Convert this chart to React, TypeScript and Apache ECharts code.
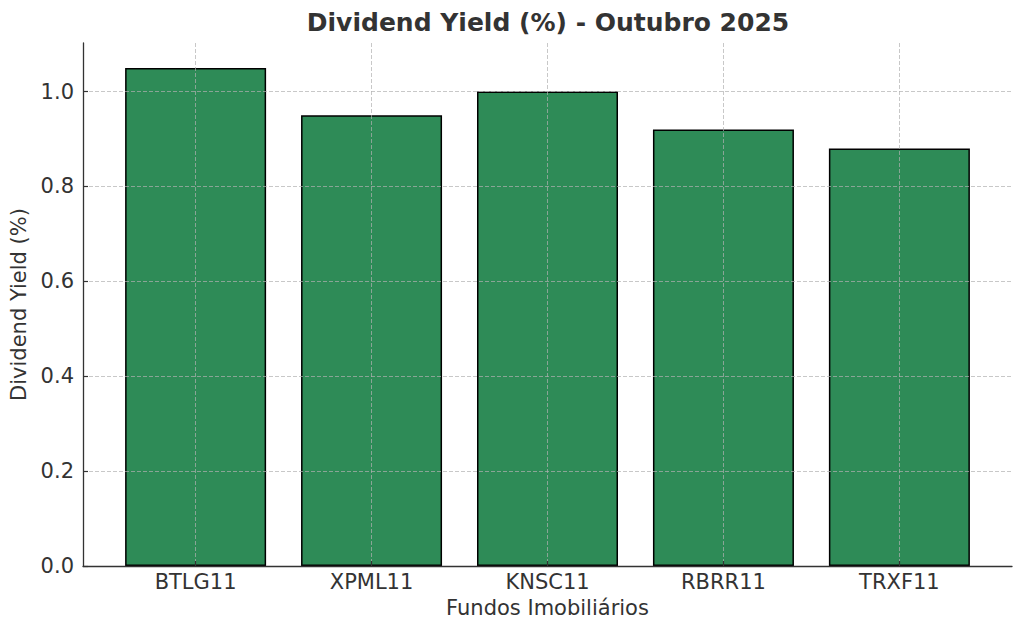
import React, { useEffect, useRef } from "react";
import * as echarts from "echarts";

const categories = ["BTLG11", "XPML11", "KNSC11", "RBRR11", "TRXF11"];
const yieldValues = [1.05, 0.95, 1.0, 0.92, 0.88];
const yTicks = [0, 0.2, 0.4, 0.6, 0.8, 1.0];
const xTicks = [0, 1, 2, 3, 4];

const FONT = "'DejaVu Sans', sans-serif";
const TEXT = "#333333";
const GRID = "rgba(176,176,176,0.7)";

export default function App() {
  const ref = useRef<HTMLDivElement>(null);
  useEffect(() => {
    if (!ref.current) return;
    const chart = echarts.init(ref.current, undefined, { renderer: "svg" });
    chart.setOption({
      animation: false,
      backgroundColor: "#ffffff",
      textStyle: { fontFamily: FONT, color: TEXT },
      title: {
        text: "Dividend Yield (%) - Outubro 2025",
        left: 543,
        textAlign: "center",
        top: 5,
        textStyle: { fontFamily: FONT, fontWeight: "bold", fontSize: 25, color: TEXT },
      },
      grid: { left: 83, right: 12, top: 43, bottom: 69, containLabel: false },
      xAxis: {
        type: "value",
        min: -0.64,
        max: 4.64,
        z: 5,
        name: "Fundos Imobiliários",
        nameLocation: "middle",
        nameGap: 31,
        nameTextStyle: { fontFamily: FONT, fontSize: 21, color: TEXT },
        axisLine: { show: true, onZero: false, lineStyle: { color: "#333", width: 1.3 } },
        axisTick: { show: true, inside: true, length: 5, customValues: xTicks, lineStyle: { color: "#333", width: 1.2 } },
        axisLabel: {
          customValues: xTicks,
          margin: 5,
          fontFamily: FONT,
          fontSize: 21,
          color: TEXT,
          formatter: (v: number) => categories[Math.round(v)] ?? "",
        },
        splitLine: { show: true, lineStyle: { color: GRID, type: [4, 2], width: 1 } },
      },
      yAxis: {
        type: "value",
        min: 0,
        max: 1.1025,
        z: 5,
        name: "Dividend Yield (%)",
        nameLocation: "middle",
        nameGap: 49,
        nameTextStyle: { fontFamily: FONT, fontSize: 21, color: TEXT },
        axisLine: { show: true, onZero: false, lineStyle: { color: "#333", width: 1.3 } },
        axisTick: { show: true, inside: true, length: 5, customValues: yTicks, lineStyle: { color: "#333", width: 1.2 } },
        axisLabel: {
          customValues: yTicks,
          margin: 9,
          fontFamily: FONT,
          fontSize: 21,
          color: TEXT,
          formatter: (v: number) => v.toFixed(1),
        },
        splitLine: { show: true, lineStyle: { color: GRID, type: [4, 2], width: 1 } },
      },
      series: [
        {
          type: "bar",
          data: yieldValues.map((v, i) => [i, v]),
          barWidth: 141,
          itemStyle: { color: "#2e8b57", borderColor: "#000000", borderWidth: 1.5 },
        },
      ],
    });
    return () => chart.dispose();
  }, []);
  return <div ref={ref} style={{ width: 1024, height: 635, position: "absolute", left: 0, top: 0 }} />;
}
